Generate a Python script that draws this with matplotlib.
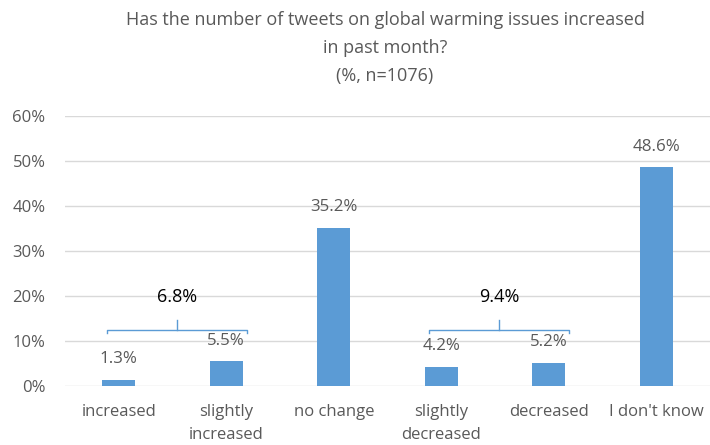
import matplotlib.pyplot as plt
import numpy as np

categories = ["increased", "slightly\nincreased", "no change",
              "slightly\ndecreased", "decreased", "I don't know"]
values = [1.3, 5.5, 35.2, 4.2, 5.2, 48.6]

# grouped totals shown above the brackets: (first index, last index, total)
groups = [(0, 1, 6.8), (3, 4, 9.4)]

bar_color = "#5B9BD5"
text_color = "#595959"

plt.rcParams['font.family'] = ['Open Sans', 'DejaVu Sans']

fig = plt.figure(figsize=(7.1, 4.45), dpi=100)
ax = fig.add_axes([65 / 710, 59 / 445, 645 / 710, 270 / 445])

x = np.arange(len(categories))
ax.bar(x, values, width=0.31, color=bar_color, zorder=3)

for xi, v in zip(x, values):
    ax.text(xi, v + 4.6, f"{v:.1f}%", ha='center', va='center',
            fontsize=12.2, color=text_color)

# bracket over each pair of bars, with the pair total above
for i0, i1, total in groups:
    left = i0 - 0.11
    right = i1 + 0.19
    mid = (left + right) / 2
    ax.plot([left, left, right, right], [11.8, 12.4, 12.4, 11.8],
            color=bar_color, lw=1, zorder=4, clip_on=False)
    ax.plot([mid, mid], [12.4, 14.6], color=bar_color, lw=1, zorder=4)
    ax.text(mid, 19.8, f"{total:.1f}%", ha='center', va='center',
            fontsize=13, color='black')

ax.set_xlim(-0.5, len(categories) - 0.5)
ax.set_ylim(0, 60)
ax.set_yticks(np.arange(0, 61, 10))
ax.set_yticklabels([f"{t}%" for t in range(0, 61, 10)])
ax.set_xticks(x)
ax.set_xticklabels(categories, linespacing=1.55)

ax.grid(axis='y', color='#D9D9D9', lw=1, zorder=0)
for s in ax.spines.values():
    s.set_visible(False)
ax.tick_params(axis='both', length=0, labelsize=12, colors=text_color)
ax.tick_params(axis='y', pad=14)
ax.tick_params(axis='x', pad=13)

fig.text(385 / 710, 1 - 48 / 445,
         "Has the number of tweets on global warming issues increased\n"
         "in past month?\n(%, n=1076)",
         ha='center', va='center', fontsize=13, color=text_color,
         linespacing=1.7)

fig.savefig("out.png", dpi=100)
